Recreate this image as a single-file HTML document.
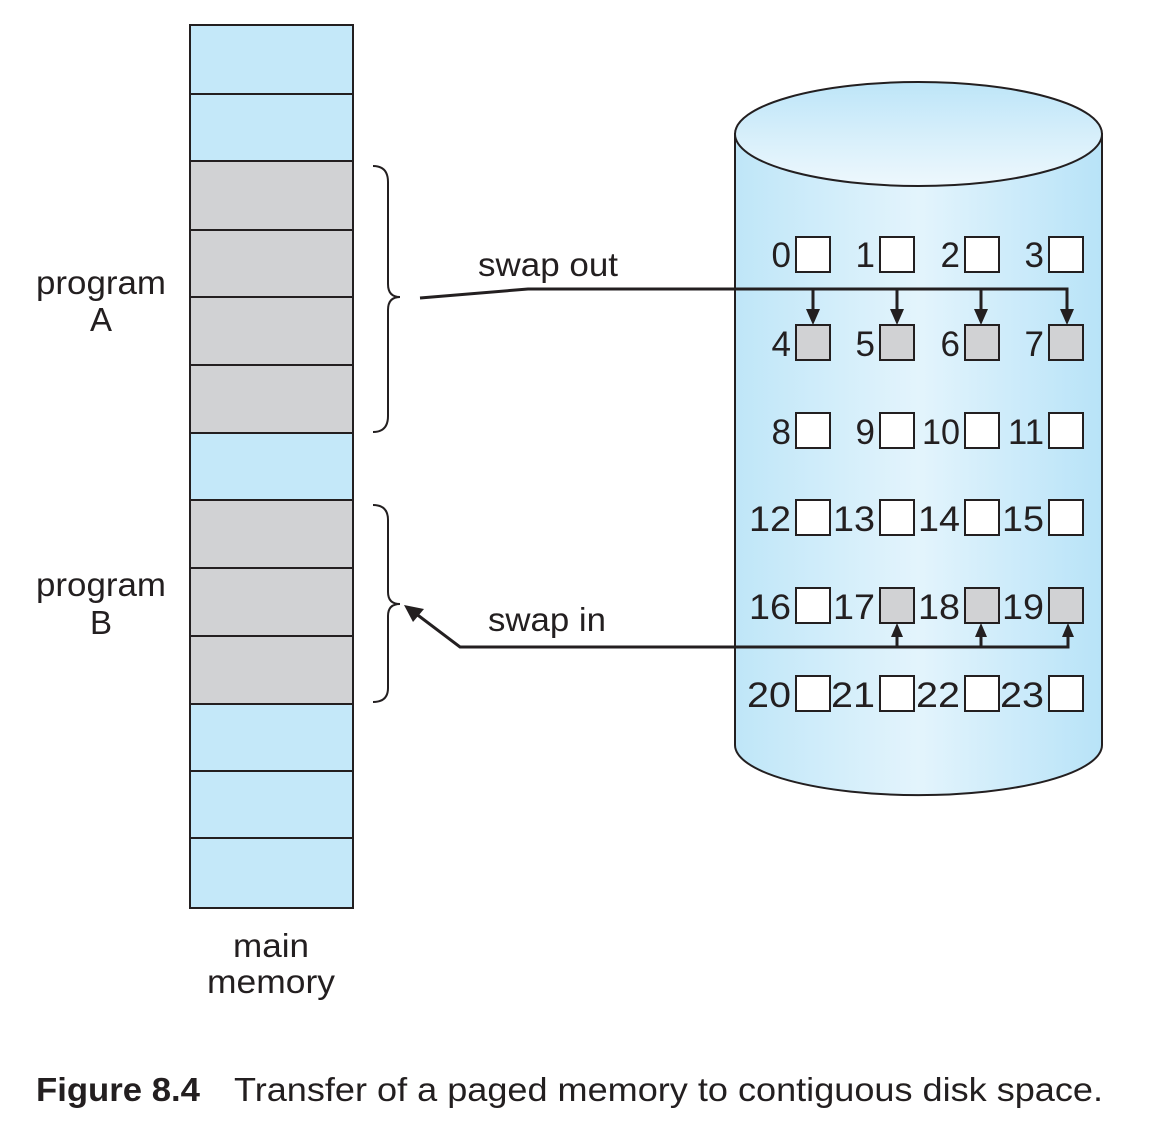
<!DOCTYPE html>
<html><head><meta charset="utf-8"><style>
html,body{margin:0;padding:0;background:#fff}
svg{display:block}
text{font-family:"Liberation Sans",Arial,sans-serif;fill:#231f20}
</style></head><body>
<svg width="1174" height="1122" viewBox="0 0 1174 1122" xmlns="http://www.w3.org/2000/svg">
<defs>
<linearGradient id="cyl" x1="0" x2="1" y1="0" y2="0">
<stop offset="0" stop-color="#bfe6f8"/><stop offset="0.5" stop-color="#e3f4fc"/><stop offset="1" stop-color="#b8e3f8"/>
</linearGradient>
<linearGradient id="top" x1="0" x2="0" y1="0" y2="1">
<stop offset="0" stop-color="#bde5f8"/><stop offset="1" stop-color="#eef8fd"/>
</linearGradient>
</defs>
<g stroke="#231f20" stroke-width="2">
<rect x="190" y="25" width="163" height="883" fill="#c4e8f9"/>
<rect x="190" y="161" width="163" height="272" fill="#d1d2d4"/>
<rect x="190" y="500" width="163" height="204" fill="#d1d2d4"/>
<path d="M190 94H353M190 161H353M190 230H353M190 297H353M190 365H353M190 433H353M190 500H353M190 568H353M190 636H353M190 704H353M190 771H353M190 838H353" fill="none"/>
</g>
<text x="36" y="294" font-size="33" textLength="130" lengthAdjust="spacingAndGlyphs">program</text>
<text x="101" y="331" font-size="33" text-anchor="middle">A</text>
<text x="36" y="596" font-size="33" textLength="130" lengthAdjust="spacingAndGlyphs">program</text>
<text x="101" y="634" font-size="33" text-anchor="middle">B</text>
<text x="233" y="957" font-size="33" textLength="76" lengthAdjust="spacingAndGlyphs">main</text>
<text x="207" y="993" font-size="33" textLength="128" lengthAdjust="spacingAndGlyphs">memory</text>
<g stroke="#231f20" stroke-width="2" fill="none">
<path d="M373 166 Q388 166 388 182 V284 Q388 297 400 297 Q388 297 388 310 V416 Q388 432 373 432"/>
<path d="M373 505 Q388 505 388 520 V592 Q388 604 400 604 Q388 604 388 616 V688 Q388 702 373 702"/>
</g>
<path d="M735 134 V745 A183 50 0 0 0 1102 745 V134 Z" fill="url(#cyl)" stroke="#231f20" stroke-width="2"/>
<ellipse cx="918.5" cy="134" rx="183.5" ry="52" fill="url(#top)" stroke="#231f20" stroke-width="2"/>
<g stroke="#231f20" stroke-width="2">
<g fill="#fff">
<rect x="796" y="237" width="34" height="35"/><rect x="880" y="237" width="34" height="35"/><rect x="965" y="237" width="34" height="35"/><rect x="1049" y="237" width="34" height="35"/>
<rect x="796" y="413" width="34" height="35"/><rect x="880" y="413" width="34" height="35"/><rect x="965" y="413" width="34" height="35"/><rect x="1049" y="413" width="34" height="35"/>
<rect x="796" y="500" width="34" height="35"/><rect x="880" y="500" width="34" height="35"/><rect x="965" y="500" width="34" height="35"/><rect x="1049" y="500" width="34" height="35"/>
<rect x="796" y="588" width="34" height="35"/>
<rect x="796" y="676" width="34" height="35"/><rect x="880" y="676" width="34" height="35"/><rect x="965" y="676" width="34" height="35"/><rect x="1049" y="676" width="34" height="35"/>
</g>
<g fill="#d1d2d4">
<rect x="796" y="325" width="34" height="35"/><rect x="880" y="325" width="34" height="35"/><rect x="965" y="325" width="34" height="35"/><rect x="1049" y="325" width="34" height="35"/>
<rect x="880" y="588" width="34" height="35"/><rect x="965" y="588" width="34" height="35"/><rect x="1049" y="588" width="34" height="35"/>
</g>
</g>
<g font-size="35" text-anchor="end">
<text x="791" y="267">0</text><text x="875" y="267">1</text><text x="960" y="267">2</text><text x="1044" y="267">3</text>
<text x="791" y="356">4</text><text x="875" y="356">5</text><text x="960" y="356">6</text><text x="1044" y="356">7</text>
<text x="791" y="444">8</text><text x="875" y="444">9</text><text x="960" y="444" textLength="38" lengthAdjust="spacingAndGlyphs">10</text><text x="1044" y="444" textLength="36" lengthAdjust="spacingAndGlyphs">11</text>
<text x="791" y="531" textLength="42" lengthAdjust="spacingAndGlyphs">12</text><text x="875" y="531" textLength="42" lengthAdjust="spacingAndGlyphs">13</text><text x="960" y="531" textLength="42" lengthAdjust="spacingAndGlyphs">14</text><text x="1044" y="531" textLength="42" lengthAdjust="spacingAndGlyphs">15</text>
<text x="791" y="619" textLength="42" lengthAdjust="spacingAndGlyphs">16</text><text x="875" y="619" textLength="42" lengthAdjust="spacingAndGlyphs">17</text><text x="960" y="619" textLength="42" lengthAdjust="spacingAndGlyphs">18</text><text x="1044" y="619" textLength="42" lengthAdjust="spacingAndGlyphs">19</text>
<text x="791" y="707" textLength="44" lengthAdjust="spacingAndGlyphs">20</text><text x="875" y="707" textLength="44" lengthAdjust="spacingAndGlyphs">21</text><text x="960" y="707" textLength="44" lengthAdjust="spacingAndGlyphs">22</text><text x="1044" y="707" textLength="44" lengthAdjust="spacingAndGlyphs">23</text>
</g>
<text x="478" y="276" font-size="33" textLength="140" lengthAdjust="spacingAndGlyphs">swap out</text>
<g stroke="#231f20" stroke-width="3" fill="none">
<path d="M420 298 L528 289 H1067 V312"/>
<path d="M813 289 V312 M897 289 V312 M981 289 V312"/>
</g>
<g fill="#231f20">
<path d="M806 309 L820 309 L813 325Z"/><path d="M890 309 L904 309 L897 325Z"/><path d="M974 309 L988 309 L981 325Z"/><path d="M1060 309 L1074 309 L1067 325Z"/>
</g>
<text x="488" y="631" font-size="33" textLength="118" lengthAdjust="spacingAndGlyphs">swap in</text>
<g stroke="#231f20" stroke-width="3" fill="none">
<path d="M415 613 L460 647 H1068 V636"/>
<path d="M897 647 V636 M981 647 V636"/>
</g>
<g fill="#231f20">
<path d="M891 637 L903 637 L897 623Z"/><path d="M975 637 L987 637 L981 623Z"/><path d="M1062 637 L1074 637 L1068 623Z"/>
<path d="M404 605 L424 609 L413 622Z"/>
</g>
<text x="36" y="1101" font-size="33" font-weight="bold" textLength="164" lengthAdjust="spacingAndGlyphs">Figure 8.4</text>
<text x="234" y="1101" font-size="33" textLength="869" lengthAdjust="spacingAndGlyphs">Transfer of a paged memory to contiguous disk space.</text>
</svg>
</body></html>
